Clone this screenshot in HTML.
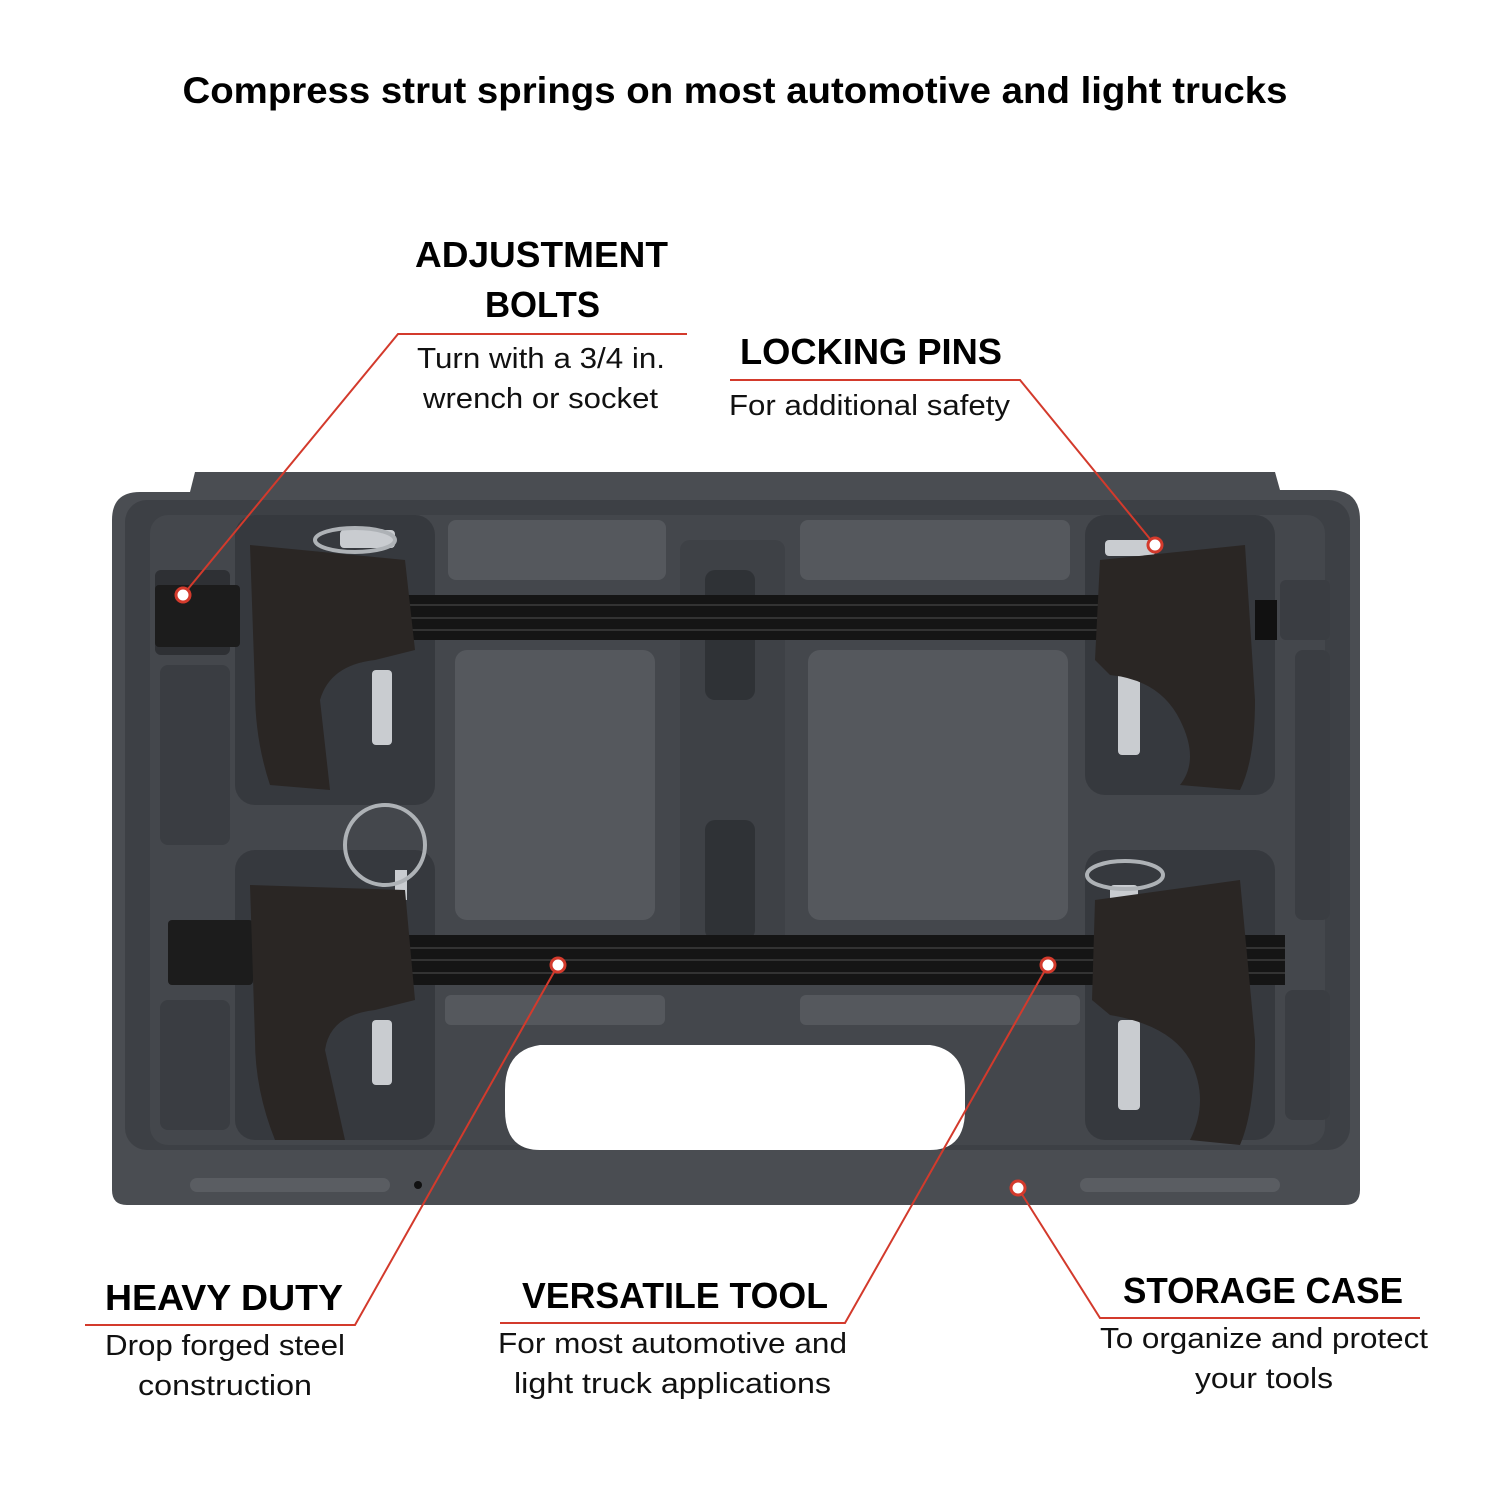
<!DOCTYPE html>
<html><head><meta charset="utf-8"><style>
html,body{margin:0;padding:0;background:#fff;}
svg{display:block;}
.t{font-family:"Liberation Sans",sans-serif;font-weight:bold;fill:#000;}
.s{font-family:"Liberation Sans",sans-serif;fill:#111;}
</style></head><body>
<svg width="1500" height="1500" viewBox="0 0 1500 1500" xmlns="http://www.w3.org/2000/svg">
<text x="735" y="103" text-anchor="middle" class="t" font-size="37" textLength="1105" lengthAdjust="spacingAndGlyphs">Compress strut springs on most automotive and light trucks</text>

<path d="M195 472 L1275 472 L1280 490 L1330 490 Q1360 490 1360 520 L1360 1190 Q1360 1205 1345 1205 L127 1205 Q112 1205 112 1190 L112 520 Q112 492 140 492 L190 492 Z" fill="#4a4d52"/>
<rect x="125" y="500" width="1225" height="650" rx="22" fill="#3d4045"/>
<rect x="150" y="515" width="1175" height="630" rx="18" fill="#44474c"/>
<rect x="155" y="570" width="75" height="85" rx="6" fill="#2e3034"/>
<rect x="160" y="665" width="70" height="180" rx="8" fill="#3a3d42"/>
<rect x="160" y="1000" width="70" height="130" rx="8" fill="#3a3d42"/>
<rect x="235" y="515" width="200" height="290" rx="20" fill="#36393e"/>
<rect x="235" y="850" width="200" height="290" rx="20" fill="#36393e"/>
<rect x="1085" y="515" width="190" height="280" rx="20" fill="#36393e"/>
<rect x="1085" y="850" width="190" height="290" rx="20" fill="#36393e"/>
<rect x="1280" y="580" width="50" height="60" rx="6" fill="#3a3d42"/>
<rect x="1295" y="650" width="35" height="270" rx="8" fill="#3a3d42"/>
<rect x="1285" y="990" width="45" height="130" rx="8" fill="#3a3d42"/>
<rect x="448" y="520" width="218" height="60" rx="8" fill="#55585d"/>
<rect x="800" y="520" width="270" height="60" rx="8" fill="#55585d"/>
<rect x="455" y="650" width="200" height="270" rx="12" fill="#55585d"/>
<rect x="808" y="650" width="260" height="270" rx="12" fill="#55585d"/>
<rect x="680" y="540" width="105" height="420" rx="10" fill="#3e4146"/>
<rect x="705" y="570" width="50" height="130" rx="10" fill="#2f3236"/>
<rect x="705" y="820" width="50" height="120" rx="10" fill="#2f3236"/>
<rect x="445" y="995" width="220" height="30" rx="6" fill="#55585d"/>
<rect x="800" y="995" width="280" height="30" rx="6" fill="#55585d"/>
<path d="M540 1045 L930 1045 Q965 1050 965 1090 L965 1110 Q965 1150 930 1150 L540 1150 Q505 1150 505 1110 L505 1090 Q505 1050 540 1045 Z" fill="#fff"/>
<rect x="190" y="1178" width="200" height="14" rx="7" fill="#5a5d62"/>
<rect x="1080" y="1178" width="200" height="14" rx="7" fill="#5a5d62"/>
<circle cx="418" cy="1185" r="4" fill="#111"/>

<rect x="405" y="595" width="700" height="45" fill="#151515"/>
<rect x="405" y="935" width="880" height="50" fill="#151515"/>
<g stroke="#333" stroke-width="2">
<line x1="405" y1="605" x2="1105" y2="605"/><line x1="405" y1="618" x2="1105" y2="618"/><line x1="405" y1="630" x2="1105" y2="630"/>
<line x1="405" y1="948" x2="1285" y2="948"/><line x1="405" y1="960" x2="1285" y2="960"/><line x1="405" y1="973" x2="1285" y2="973"/>
</g>
<rect x="155" y="585" width="85" height="62" rx="4" fill="#1c1c1c"/>
<rect x="168" y="920" width="85" height="65" rx="4" fill="#1c1c1c"/>
<rect x="1255" y="600" width="22" height="40" fill="#111"/>
<g fill="#c9ccd0">
<rect x="372" y="670" width="20" height="75" rx="4"/>
<rect x="372" y="1020" width="20" height="65" rx="4"/>
<rect x="1118" y="670" width="22" height="85" rx="4"/>
<rect x="1118" y="1020" width="22" height="90" rx="4"/>
<rect x="395" y="870" width="12" height="30"/>
<rect x="1110" y="885" width="28" height="25" rx="4"/>
<rect x="1105" y="540" width="50" height="16" rx="4"/>
<rect x="340" y="530" width="55" height="18" rx="4"/>
</g>
<g fill="none" stroke="#aeb2b6" stroke-width="4">
<circle cx="385" cy="845" r="40"/>
<ellipse cx="1125" cy="875" rx="38" ry="14"/>
<ellipse cx="355" cy="540" rx="40" ry="12"/>
</g>
<g fill="#2a2624">
<path d="M250 545 L405 560 L415 650 L375 660 Q330 665 320 700 L330 790 L270 785 Q255 740 255 690 Z"/>
<path d="M250 885 L405 890 L415 1000 L375 1010 Q330 1015 325 1050 L345 1140 L275 1140 Q255 1090 255 1040 Z"/>
<path d="M1100 560 L1245 545 L1255 700 Q1255 760 1240 790 L1180 785 Q1200 760 1180 720 Q1160 680 1110 675 L1095 660 Z"/>
<path d="M1095 900 L1240 880 L1255 1040 Q1255 1110 1240 1145 L1190 1140 Q1210 1100 1190 1060 Q1170 1025 1110 1015 L1092 1000 Z"/>
</g>

<g stroke="#d33a2c" stroke-width="2" fill="none">
<polyline points="687,334 398,334 183,595"/>
<polyline points="730,380 1020,380 1155,545"/>
<polyline points="85,1325 355,1325 558,965"/>
<polyline points="500,1323 845,1323 1048,965"/>
<polyline points="1420,1318 1100,1318 1018,1188"/>
</g>
<g fill="#fff" stroke="#d33a2c" stroke-width="3">
<circle cx="183" cy="595" r="7"/><circle cx="1155" cy="545" r="7"/>
<circle cx="558" cy="965" r="7"/><circle cx="1048" cy="965" r="7"/>
<circle cx="1018" cy="1188" r="7"/>
</g>

<text x="415" y="267" class="t" font-size="36" textLength="253" lengthAdjust="spacingAndGlyphs">ADJUSTMENT</text>
<text x="485" y="317" class="t" font-size="36" textLength="115" lengthAdjust="spacingAndGlyphs">BOLTS</text>
<text x="417" y="368" class="s" font-size="29" textLength="248" lengthAdjust="spacingAndGlyphs">Turn with a 3/4 in.</text>
<text x="423" y="408" class="s" font-size="29" textLength="235" lengthAdjust="spacingAndGlyphs">wrench or socket</text>

<text x="740" y="364" class="t" font-size="36" textLength="262" lengthAdjust="spacingAndGlyphs">LOCKING PINS</text>
<text x="729" y="415" class="s" font-size="29" textLength="281" lengthAdjust="spacingAndGlyphs">For additional safety</text>

<text x="105" y="1310" class="t" font-size="36" textLength="238" lengthAdjust="spacingAndGlyphs">HEAVY DUTY</text>
<text x="105" y="1355" class="s" font-size="29" textLength="240" lengthAdjust="spacingAndGlyphs">Drop forged steel</text>
<text x="138" y="1395" class="s" font-size="29" textLength="174" lengthAdjust="spacingAndGlyphs">construction</text>

<text x="522" y="1308" class="t" font-size="36" textLength="306" lengthAdjust="spacingAndGlyphs">VERSATILE TOOL</text>
<text x="498" y="1353" class="s" font-size="29" textLength="349" lengthAdjust="spacingAndGlyphs">For most automotive and</text>
<text x="514" y="1393" class="s" font-size="29" textLength="317" lengthAdjust="spacingAndGlyphs">light truck applications</text>

<text x="1123" y="1303" class="t" font-size="36" textLength="280" lengthAdjust="spacingAndGlyphs">STORAGE CASE</text>
<text x="1100" y="1348" class="s" font-size="29" textLength="328" lengthAdjust="spacingAndGlyphs">To organize and protect</text>
<text x="1195" y="1388" class="s" font-size="29" textLength="138" lengthAdjust="spacingAndGlyphs">your tools</text>
</svg>
</body></html>
